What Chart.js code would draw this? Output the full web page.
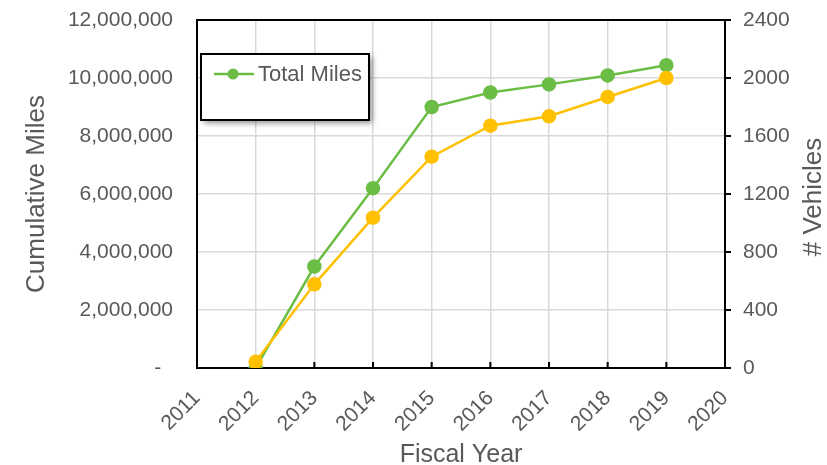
<!DOCTYPE html>
<html>
<head>
<meta charset="utf-8">
<script src="https://cdn.jsdelivr.net/npm/chart.js@4.4.1/dist/chart.umd.min.js"></script>
<style>
  html, body { margin: 0; padding: 0; background: #fff; }
  canvas { display: block; }
</style>
</head>
<body>
<canvas id="mileChart" width="827" height="465"></canvas>
<script>
const years = [2012, 2013, 2014, 2015, 2016, 2017, 2018, 2019];
const totalMiles = [0, 3500000, 6200000, 9000000, 9500000, 9780000, 10090000, 10440000];
const vehicles = [43, 577, 1037, 1457, 1671, 1736, 1869, 2000];
const yearRange = [2011, 2020];
const milesAxis = [0, 12000000, 2000000]; // min, max, step
const vehicleAxis = [0, 2400, 400];

const GREEN = '#6bbd45';
const GOLD = '#ffc000';
const GREY_TEXT = '#595959';
const FONT = "'Liberation Sans', Arial, sans-serif";

const toPoints = (vals) => years.map((yr, i) => ({ x: yr, y: vals[i] }));

// fixed axis boxes so the plot sits where the original one does
const fixWidth = (w) => (s) => {
  s.width = w;
  s.paddingTop = 0;
  s.paddingBottom = 0;
};

// black frame round the plot + inward ticks on the year axis
const framePlugin = {
  id: 'frame',
  beforeDatasetsDraw(chart) {
    const { ctx, chartArea: a, scales } = chart;
    ctx.save();
    ctx.strokeStyle = '#000';
    ctx.lineWidth = 2;
    ctx.beginPath();
    scales.x.ticks.forEach((t) => {
      const px = scales.x.getPixelForValue(t.value);
      ctx.moveTo(px, a.bottom);
      ctx.lineTo(px, a.bottom - 6);
    });
    ctx.stroke();
    ctx.strokeRect(a.left, a.top, a.right - a.left, a.bottom - a.top);
    ctx.restore();
  },
  afterDraw(chart) {
    // right-hand title, reading bottom to top like the left one
    const { ctx, chartArea: a } = chart;
    ctx.save();
    ctx.translate(814, (a.top + a.bottom) / 2 + 3);
    ctx.rotate(-Math.PI / 2);
    ctx.fillStyle = GREY_TEXT;
    ctx.font = '26px ' + FONT;
    ctx.textAlign = 'center';
    ctx.textBaseline = 'middle';
    ctx.fillText('# Vehicles', 0, 0);
    ctx.restore();
  },
};

// boxed legend inside the plot, only the first series
const legendBox = {
  id: 'legendBox',
  afterDraw(chart) {
    const { ctx, chartArea: a } = chart;
    const ds = chart.data.datasets[0];
    const x = a.left + 4, y = a.top + 34, w = 168, h = 66;
    ctx.save();
    ctx.shadowColor = 'rgba(0,0,0,0.45)';
    ctx.shadowBlur = 6;
    ctx.shadowOffsetX = 3;
    ctx.shadowOffsetY = 3;
    ctx.fillStyle = '#fff';
    ctx.fillRect(x, y, w, h);
    ctx.shadowColor = 'transparent';
    ctx.strokeStyle = '#000';
    ctx.lineWidth = 2;
    ctx.strokeRect(x, y, w, h);

    const ly = y + 20;
    ctx.strokeStyle = ds.borderColor;
    ctx.lineWidth = 2.5;
    ctx.beginPath();
    ctx.moveTo(x + 13, ly);
    ctx.lineTo(x + 53, ly);
    ctx.stroke();
    ctx.fillStyle = ds.borderColor;
    ctx.beginPath();
    ctx.arc(x + 32, ly, 5.5, 0, Math.PI * 2);
    ctx.fill();

    ctx.fillStyle = GREY_TEXT;
    ctx.font = '22px ' + FONT;
    ctx.textBaseline = 'middle';
    ctx.fillText(ds.label, x + 57, ly + 1);
    ctx.restore();
  },
};

new Chart(document.getElementById('mileChart'), {
  type: 'line',
  data: {
    datasets: [
      {
        label: 'Total Miles',
        data: toPoints(totalMiles),
        yAxisID: 'y',
        borderColor: GREEN,
        backgroundColor: GREEN,
        borderWidth: 2.5,
        pointRadius: 6,
        pointHoverRadius: 6,
        order: 1,
      },
      {
        label: 'Vehicles',
        data: toPoints(vehicles),
        yAxisID: 'y1',
        borderColor: GOLD,
        backgroundColor: GOLD,
        borderWidth: 2.5,
        pointRadius: 6,
        pointHoverRadius: 6,
        order: 0,
      },
    ],
  },
  options: {
    responsive: false,
    devicePixelRatio: 1,
    animation: false,
    layout: { autoPadding: false, padding: { top: 20, left: 0, right: 0, bottom: 0 } },
    plugins: {
      legend: { display: false },
      tooltip: { enabled: false },
    },
    scales: {
      x: {
        type: 'linear',
        min: yearRange[0],
        max: yearRange[1],
        afterFit: (s) => { s.height = 97; },
        border: { display: false },
        grid: { color: '#d9d9d9', lineWidth: 1.5, drawTicks: false },
        ticks: {
          stepSize: 1,
          minRotation: 45,
          maxRotation: 45,
          padding: 18,
          color: GREY_TEXT,
          font: { family: FONT, size: 21 },
          callback: (v) => String(v),
        },
        title: {
          display: true,
          text: 'Fiscal Year',
          color: GREY_TEXT,
          font: { family: FONT, size: 25, lineHeight: 0.8 },
          padding: 0,
        },
      },
      y: {
        position: 'left',
        min: milesAxis[0],
        max: milesAxis[1],
        afterFit: fixWidth(197),
        border: { display: false },
        grid: { color: '#d9d9d9', lineWidth: 1.5, drawTicks: false },
        ticks: {
          stepSize: milesAxis[2],
          padding: 24,
          color: GREY_TEXT,
          font: { family: FONT, size: 21 },
          callback: (v) => (v === 0 ? '-  ' : v.toLocaleString('en-US')),
        },
        title: {
          display: true,
          text: 'Cumulative Miles',
          color: GREY_TEXT,
          font: { family: FONT, size: 26, lineHeight: 1 },
          padding: { top: 24, bottom: 0 },
        },
      },
      y1: {
        position: 'right',
        min: vehicleAxis[0],
        max: vehicleAxis[1],
        afterFit: fixWidth(102),
        border: { display: false },
        grid: {
          drawOnChartArea: false,
          drawTicks: true,
          tickLength: 6,
          color: '#000',
          lineWidth: 2,
        },
        ticks: {
          stepSize: vehicleAxis[2],
          padding: 12,
          color: GREY_TEXT,
          font: { family: FONT, size: 21 },
          callback: (v) => String(v),
        },
      },
    },
  },
  plugins: [framePlugin, legendBox],
});
</script>
</body>
</html>
